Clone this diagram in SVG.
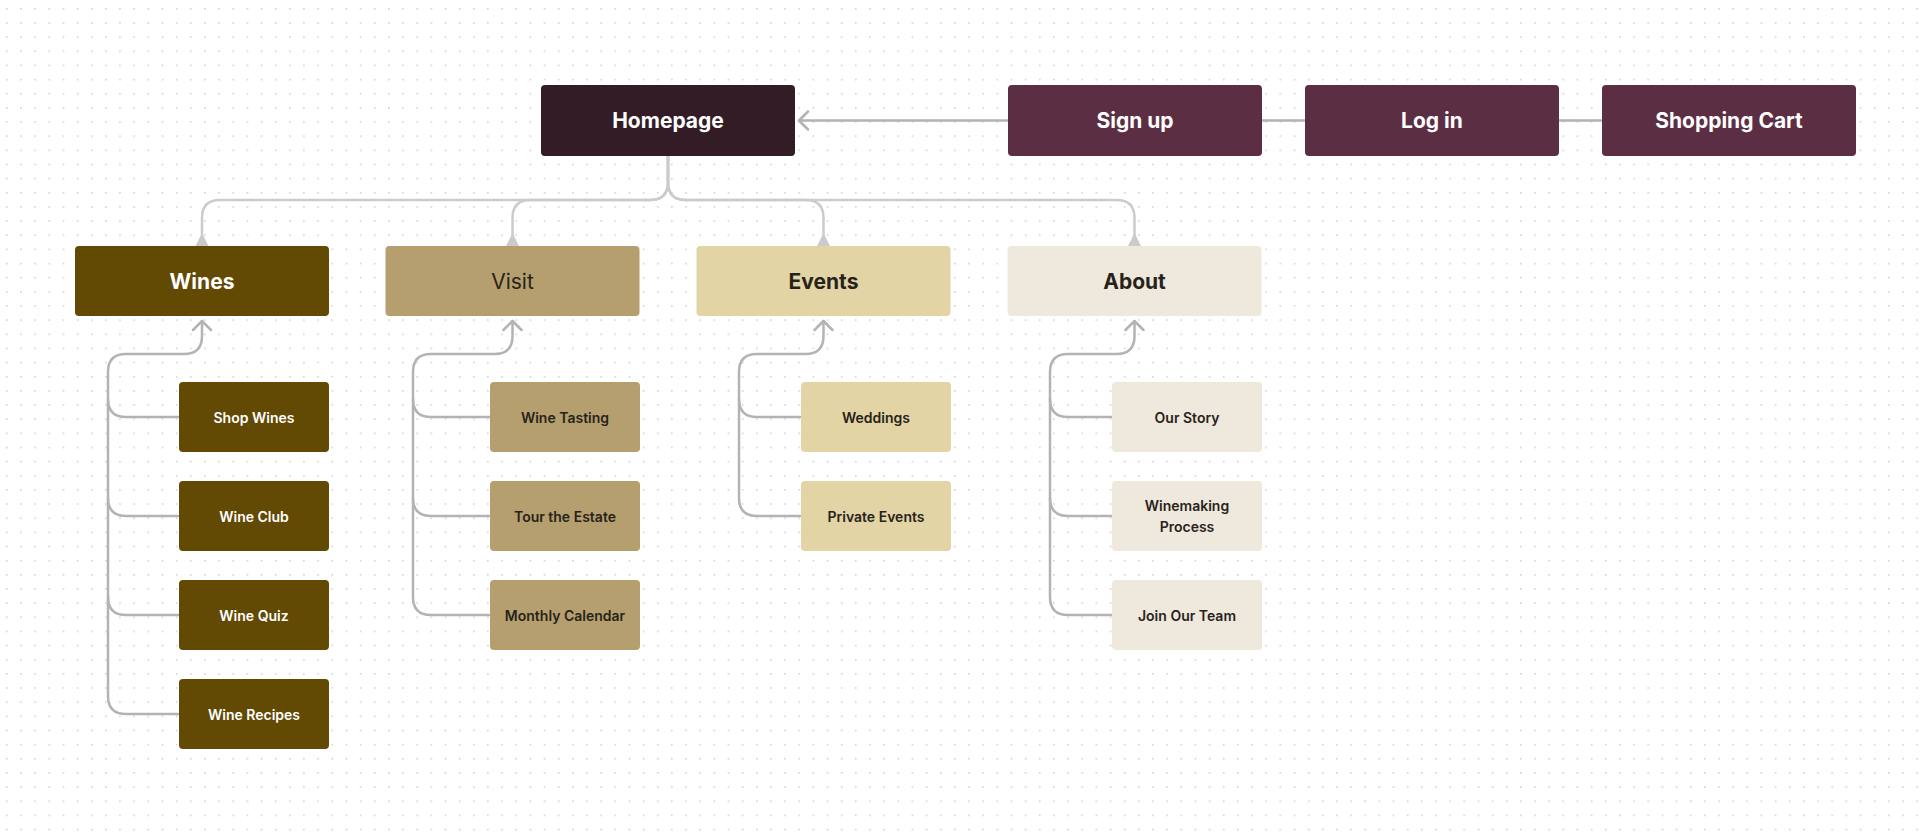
<svg xmlns="http://www.w3.org/2000/svg" width="1920" height="836" viewBox="0 0 1920 836">
  <defs>
    <pattern id="dots" patternUnits="userSpaceOnUse" x="6" y="8" width="14.15" height="14.15">
      <rect x="0" y="0" width="1.6" height="1.6" fill="#d2d2d2"/>
    </pattern>
    <style>
      text { font-family: Inter, "Noto Sans", "Liberation Sans", sans-serif; text-anchor: middle; dominant-baseline: central; }
      .t1 { font-size: 21px; font-weight: 700; fill: #ffffff; }
      .t2 { font-size: 21px; font-weight: 700; }
      .t3 { font-size: 14px; font-weight: 600; }
      .light { fill: #ffffff; }
      .dark { fill: #27231b; }
      .tree { fill: none; stroke: #cbcbcb; stroke-width: 2.5; }
      .sub { fill: none; stroke: #b3b3b3; stroke-width: 2.5; stroke-linecap: round; stroke-linejoin: round; }
      .tri { fill: #cbcbcb; }
      .top { fill: #5c2e44; }
      .wines { fill: #624904; }
      .visit { fill: #b69f6e; }
      .events { fill: #e2d4a4; }
      .about { fill: #efe8dc; }
    </style>
  </defs>
  <rect width="1920" height="836" fill="#ffffff"/>
  <rect width="1920" height="836" fill="url(#dots)"/>

  <g id="connectors">
    <!-- Homepage tree -->
    <path class="tree" d="M668 156 V182 Q668 200 650 200 H220 Q202 200 202 218 V236"/>
    <path class="tree" d="M668 156 V182 Q668 200 650 200 H530.5 Q512.5 200 512.5 218 V236"/>
    <path class="tree" d="M668 156 V182 Q668 200 686 200 H805.5 Q823.5 200 823.5 218 V236"/>
    <path class="tree" d="M668 156 V182 Q668 200 686 200 H1116.5 Q1134.5 200 1134.5 218 V236"/>
    <polygon class="tri" points="202,233 195.5,246 208.5,246"/>
    <polygon class="tri" points="512.5,233 506,246 519,246"/>
    <polygon class="tri" points="823.5,233 817,246 830,246"/>
    <polygon class="tri" points="1134.5,233 1128,246 1141,246"/>

    <!-- Top row -->
    <path class="sub" d="M1007 120.5 H799"/>
    <path class="sub" d="M808 111.5 L799 120.5 L808 129.5"/>
    <path class="sub" d="M1262 120.5 H1304"/>
    <path class="sub" d="M1559 120.5 H1601"/>

    <!-- Wines -->
    <path class="sub" d="M202 321 V336 Q202 354 184 354 H126 Q108 354 108 372 V696 Q108 714 126 714 H178"/>
    <path class="sub" d="M108 399 Q108 417 126 417 H178"/>
    <path class="sub" d="M108 498 Q108 516 126 516 H178"/>
    <path class="sub" d="M108 597 Q108 615 126 615 H178"/>
    <path class="sub" d="M193 330 L202 321 L211 330"/>

    <!-- Visit -->
    <path class="sub" d="M512.5 321 V336 Q512.5 354 494.5 354 H431 Q413 354 413 372 V597 Q413 615 431 615 H489"/>
    <path class="sub" d="M413 399 Q413 417 431 417 H489"/>
    <path class="sub" d="M413 498 Q413 516 431 516 H489"/>
    <path class="sub" d="M503.5 330 L512.5 321 L521.5 330"/>

    <!-- Events -->
    <path class="sub" d="M823.5 321 V336 Q823.5 354 805.5 354 H757 Q739 354 739 372 V498 Q739 516 757 516 H800"/>
    <path class="sub" d="M739 399 Q739 417 757 417 H800"/>
    <path class="sub" d="M814.5 330 L823.5 321 L832.5 330"/>

    <!-- About -->
    <path class="sub" d="M1134.5 321 V336 Q1134.5 354 1116.5 354 H1068 Q1050 354 1050 372 V597 Q1050 615 1068 615 H1111"/>
    <path class="sub" d="M1050 399 Q1050 417 1068 417 H1111"/>
    <path class="sub" d="M1050 498 Q1050 516 1068 516 H1111"/>
    <path class="sub" d="M1125.5 330 L1134.5 321 L1143.5 330"/>
  </g>

  <!-- Top row -->
  <g id="homepage">
    <rect x="541" y="85" width="254" height="71" rx="4" fill="#331c26"/>
    <text class="t1" x="668" y="120.5">Homepage</text>
  </g>
  <g id="signup">
    <rect class="top" x="1008" y="85" width="254" height="71" rx="4"/>
    <text class="t1" x="1135" y="120.5">Sign up</text>
  </g>
  <g id="login">
    <rect class="top" x="1305" y="85" width="254" height="71" rx="4"/>
    <text class="t1" x="1432" y="120.5">Log in</text>
  </g>
  <g id="cart">
    <rect class="top" x="1602" y="85" width="254" height="71" rx="4"/>
    <text class="t1" x="1729" y="120.5">Shopping Cart</text>
  </g>

  <!-- Level 2 -->
  <g id="wines">
    <rect class="wines" x="75" y="246" width="254" height="70" rx="4"/>
    <text class="t2 light" x="202" y="281">Wines</text>
  </g>
  <g id="visit">
    <rect class="visit" x="385.5" y="246" width="254" height="70" rx="4"/>
    <text class="dark" x="512.5" y="281" style="font-size:21px;font-weight:400">Visit</text>
  </g>
  <g id="events">
    <rect class="events" x="696.5" y="246" width="254" height="70" rx="4"/>
    <text class="t2 dark" x="823.5" y="281">Events</text>
  </g>
  <g id="about">
    <rect class="about" x="1007.5" y="246" width="254" height="70" rx="4"/>
    <text class="t2 dark" x="1134.5" y="281">About</text>
  </g>

  <!-- Wines children -->
  <g id="shop-wines">
    <rect class="wines" x="179" y="382" width="150" height="70" rx="4"/>
    <text class="t3 light" x="254" y="417">Shop Wines</text>
  </g>
  <g id="wine-club">
    <rect class="wines" x="179" y="481" width="150" height="70" rx="4"/>
    <text class="t3 light" x="254" y="516">Wine Club</text>
  </g>
  <g id="wine-quiz">
    <rect class="wines" x="179" y="580" width="150" height="70" rx="4"/>
    <text class="t3 light" x="254" y="615">Wine Quiz</text>
  </g>
  <g id="wine-recipes">
    <rect class="wines" x="179" y="679" width="150" height="70" rx="4"/>
    <text class="t3 light" x="254" y="714">Wine Recipes</text>
  </g>

  <!-- Visit children -->
  <g id="wine-tasting">
    <rect class="visit" x="490" y="382" width="150" height="70" rx="4"/>
    <text class="t3 dark" x="565" y="417">Wine Tasting</text>
  </g>
  <g id="tour-estate">
    <rect class="visit" x="490" y="481" width="150" height="70" rx="4"/>
    <text class="t3 dark" x="565" y="516">Tour the Estate</text>
  </g>
  <g id="monthly-calendar">
    <rect class="visit" x="490" y="580" width="150" height="70" rx="4"/>
    <text class="t3 dark" x="565" y="615">Monthly Calendar</text>
  </g>

  <!-- Events children -->
  <g id="weddings">
    <rect class="events" x="801" y="382" width="150" height="70" rx="4"/>
    <text class="t3 dark" x="876" y="417">Weddings</text>
  </g>
  <g id="private-events">
    <rect class="events" x="801" y="481" width="150" height="70" rx="4"/>
    <text class="t3 dark" x="876" y="516">Private Events</text>
  </g>

  <!-- About children -->
  <g id="our-story">
    <rect class="about" x="1112" y="382" width="150" height="70" rx="4"/>
    <text class="t3 dark" x="1187" y="417">Our Story</text>
  </g>
  <g id="winemaking-process">
    <rect class="about" x="1112" y="481" width="150" height="70" rx="4"/>
    <text class="t3 dark" x="1187" y="505.5">Winemaking</text>
    <text class="t3 dark" x="1187" y="526.5">Process</text>
  </g>
  <g id="join-team">
    <rect class="about" x="1112" y="580" width="150" height="70" rx="4"/>
    <text class="t3 dark" x="1187" y="615">Join Our Team</text>
  </g>
</svg>
